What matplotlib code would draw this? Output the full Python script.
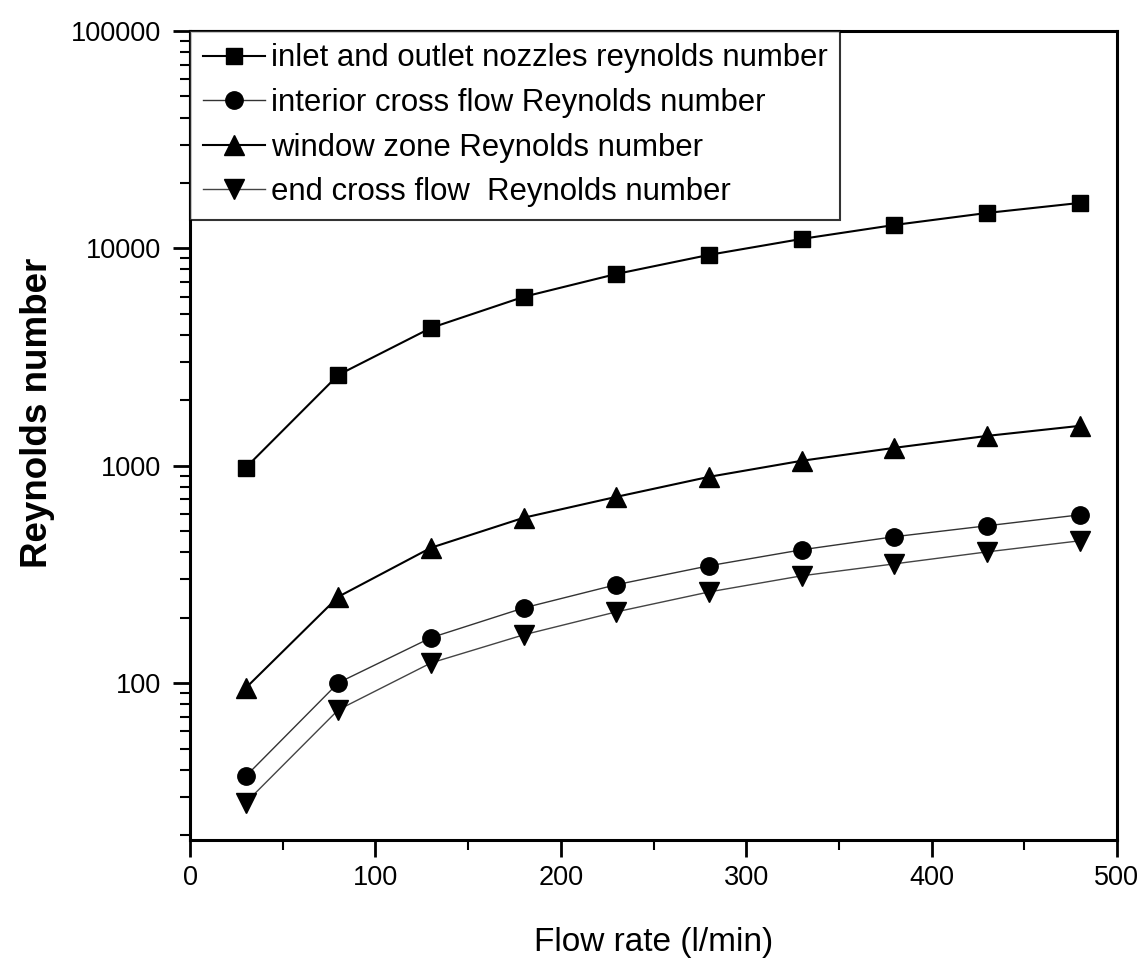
import numpy as np
import matplotlib
matplotlib.use("Agg")
import matplotlib.pyplot as plt
from matplotlib.ticker import FixedLocator, FixedFormatter, LogLocator, NullFormatter, MultipleLocator

plt.rcParams['font.family'] = ['Liberation Sans', 'DejaVu Sans']

flow_rate = [30, 80, 130, 180, 230, 280, 330, 380, 430, 480]
nozzle_re = [980, 2620, 4310, 5990, 7630, 9340, 11060, 12820, 14560, 16190]
interior_re = [37.3, 100.5, 162, 222, 284, 347, 411, 472, 530, 595]
window_re = [95, 250, 420, 577, 720, 890, 1055, 1210, 1373, 1527]
end_re = [28.2, 75.5, 124, 167, 213, 263, 312, 354, 402, 452]

labels = ["inlet and outlet nozzles reynolds number",
          "interior cross flow Reynolds number",
          "window zone Reynolds number",
          "end cross flow  Reynolds number"]
ytick_vals = [100, 1000, 10000, 100000]
ytick_labels = ["100", "1000", "10000", "100000"]

fig = plt.figure(figsize=(11.45, 9.69), dpi=100)
ax = fig.add_axes([0.166, 0.1331, 0.8095, 0.8349])

ax.plot(flow_rate, nozzle_re, '-s', color='black', lw=1.5, ms=12, label=labels[0])
ax.plot(flow_rate, interior_re, '-o', color='#333333', lw=1.0, ms=12.5, mfc='black', mec='black', label=labels[1])
ax.plot(flow_rate, window_re, '-^', color='black', lw=1.5, ms=15, label=labels[2])
ax.plot(flow_rate, end_re, '-v', color='#444444', lw=1.0, ms=15, mfc='black', mec='black', label=labels[3])

ax.set_yscale('log')
ax.set_xlim(0, 500)
ax.set_ylim(19, 100000)

ax.xaxis.set_major_locator(MultipleLocator(100))
ax.xaxis.set_minor_locator(MultipleLocator(50))
ax.yaxis.set_major_locator(FixedLocator(ytick_vals))
ax.yaxis.set_major_formatter(FixedFormatter(ytick_labels))
ax.yaxis.set_minor_locator(LogLocator(base=10, subs=np.arange(2, 10)))
ax.yaxis.set_minor_formatter(NullFormatter())

ax.tick_params(which='major', direction='out', length=12, width=2, labelsize=19.5)
ax.tick_params(axis='x', which='major', pad=6)
ax.tick_params(axis='y', which='major', pad=9)
ax.tick_params(which='minor', direction='out', length=7, width=1.5)
ax.tick_params(top=False, right=False)
for s in ax.spines.values():
    s.set_linewidth(2.2)

ax.set_xlabel("Flow rate (l/min)", fontsize=24, labelpad=26)
ax.set_ylabel("Reynolds number", fontsize=26.5, fontweight='bold', labelpad=11)
ax.yaxis.label.set_y(0.528)

leg = ax.legend(loc='upper left', borderaxespad=0, fontsize=22.4, frameon=True,
                fancybox=False, edgecolor='black', handlelength=2.0,
                handletextpad=0.2, labelspacing=0.47, borderpad=0.4)
leg.get_frame().set_linewidth(1.5)

fig.savefig("out.png", dpi=100)
